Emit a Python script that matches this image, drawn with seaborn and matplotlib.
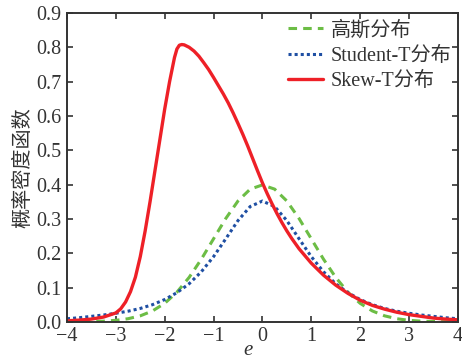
import pandas as pd
import matplotlib
matplotlib.use("Agg")
import matplotlib.pyplot as plt
import seaborn as sns

# values
e_sym = [-4.0, -3.75, -3.5, -3.25, -3.0, -2.75, -2.5, -2.25, -2.0, -1.75, -1.5, -1.25, -1.0,
         -0.75, -0.5, -0.25, 0.0, 0.25, 0.5, 0.75, 1.0, 1.25, 1.5, 1.75, 2.0, 2.25, 2.5,
         2.75, 3.0, 3.25, 3.5, 3.75, 4.0]
gauss_pdf = [0.0001, 0.0004, 0.0009, 0.002, 0.0044, 0.0091, 0.0175, 0.0317, 0.054, 0.0863,
             0.1295, 0.1826, 0.242, 0.3011, 0.3521, 0.3867, 0.3989, 0.3867, 0.3521, 0.3011,
             0.242, 0.1826, 0.1295, 0.0863, 0.054, 0.0317, 0.0175, 0.0091, 0.0044, 0.002,
             0.0009, 0.0004, 0.0001]
student_pdf = [0.009, 0.012, 0.016, 0.02, 0.025, 0.031, 0.039, 0.05, 0.065, 0.085, 0.111,
               0.146, 0.19, 0.242, 0.295, 0.336, 0.352, 0.336, 0.295, 0.242, 0.19, 0.146,
               0.111, 0.085, 0.065, 0.05, 0.039, 0.031, 0.025, 0.02, 0.016, 0.012, 0.009]

e_skew = [-4.0, -3.75, -3.5, -3.25, -3.0, -2.9, -2.8, -2.7, -2.6, -2.5, -2.4, -2.3, -2.2,
          -2.1, -2.0, -1.9, -1.8, -1.75, -1.7, -1.65, -1.6, -1.5, -1.4, -1.3, -1.2, -1.1,
          -1.0, -0.9, -0.8, -0.7, -0.6, -0.5, -0.4, -0.3, -0.2, -0.1, 0.0, 0.1, 0.2, 0.3,
          0.4, 0.5, 0.6, 0.75, 1.0, 1.25, 1.5, 1.75, 2.0, 2.25, 2.5, 2.75, 3.0, 3.25, 3.5,
          3.75, 4.0]
skew_pdf = [0.003, 0.005, 0.008, 0.014, 0.026, 0.038, 0.058, 0.088, 0.13, 0.19, 0.265, 0.35,
            0.44, 0.53, 0.62, 0.7, 0.77, 0.795, 0.806, 0.808, 0.807, 0.8, 0.789, 0.774,
            0.755, 0.735, 0.712, 0.688, 0.664, 0.638, 0.609, 0.578, 0.546, 0.512, 0.476,
            0.44, 0.405, 0.373, 0.343, 0.315, 0.289, 0.265, 0.243, 0.213, 0.171, 0.136,
            0.107, 0.083, 0.063, 0.048, 0.037, 0.028, 0.021, 0.016, 0.011, 0.008, 0.006]

labels = ["高斯分布", "Student-T分布", "Skew-T分布"]
x_ticks = [-4, -3, -2, -1, 0, 1, 2, 3, 4]
y_ticks = [0.0, 0.1, 0.2, 0.3, 0.4, 0.5, 0.6, 0.7, 0.8, 0.9]

sns.set_theme(style="ticks")
plt.rcParams["font.family"] = ["Liberation Serif", "Noto Sans CJK SC"]
plt.rcParams["axes.unicode_minus"] = True

df_sym = pd.DataFrame({"e": e_sym, "gauss": gauss_pdf, "student": student_pdf})
df_skew = pd.DataFrame({"e": e_skew, "skew": skew_pdf})

fig = plt.figure(figsize=(4.62, 3.6), dpi=100)
ax = fig.add_axes([0.145, 0.106, 0.846, 0.858])

sns.lineplot(data=df_sym, x="e", y="gauss", ax=ax, color="#6cbd45", lw=2.2,
             label=labels[0])
sns.lineplot(data=df_sym, x="e", y="student", ax=ax, color="#1f4fa3", lw=2.2,
             label=labels[1])
sns.lineplot(data=df_skew, x="e", y="skew", ax=ax, color="#ee2027", lw=2.4,
             label=labels[2])
lines = ax.get_lines()
lines[0].set_dashes([2.8, 2.0])
lines[1].set_dashes([1.0, 1.0])

ax.set_xlim(-4, 4)
ax.set_ylim(0, 0.9)
ax.set_xticks(x_ticks)
ax.set_yticks(y_ticks)
ax.set_yticklabels([f"{v:.1f}" for v in y_ticks])
ax.tick_params(direction="in", length=4, width=1.2, top=True, right=True,
               labelsize=14.5, colors="#333333", pad=4)
for s in ax.spines.values():
    s.set_color("#333333")
    s.set_linewidth(1.4)

ax.set_xlabel("e", fontsize=15, style="italic", color="#333333", labelpad=0)
ax.xaxis.set_label_coords(0.463, -0.062)
ax.set_ylabel("概率密度函数", fontsize=14.5, color="#333333", labelpad=2)

leg = ax.legend(loc="upper right", frameon=False, fontsize=14.5, handlelength=1.75,
                handletextpad=0.4, labelspacing=0.3, borderaxespad=0.0,
                bbox_to_anchor=(1.005, 1.0))
for t in leg.get_texts():
    t.set_color("#333333")
leg.get_lines()[0].set_dashes([2.8, 2.0])
leg.get_lines()[1].set_dashes([1.0, 1.0])

fig.savefig("out.png", dpi=100)
